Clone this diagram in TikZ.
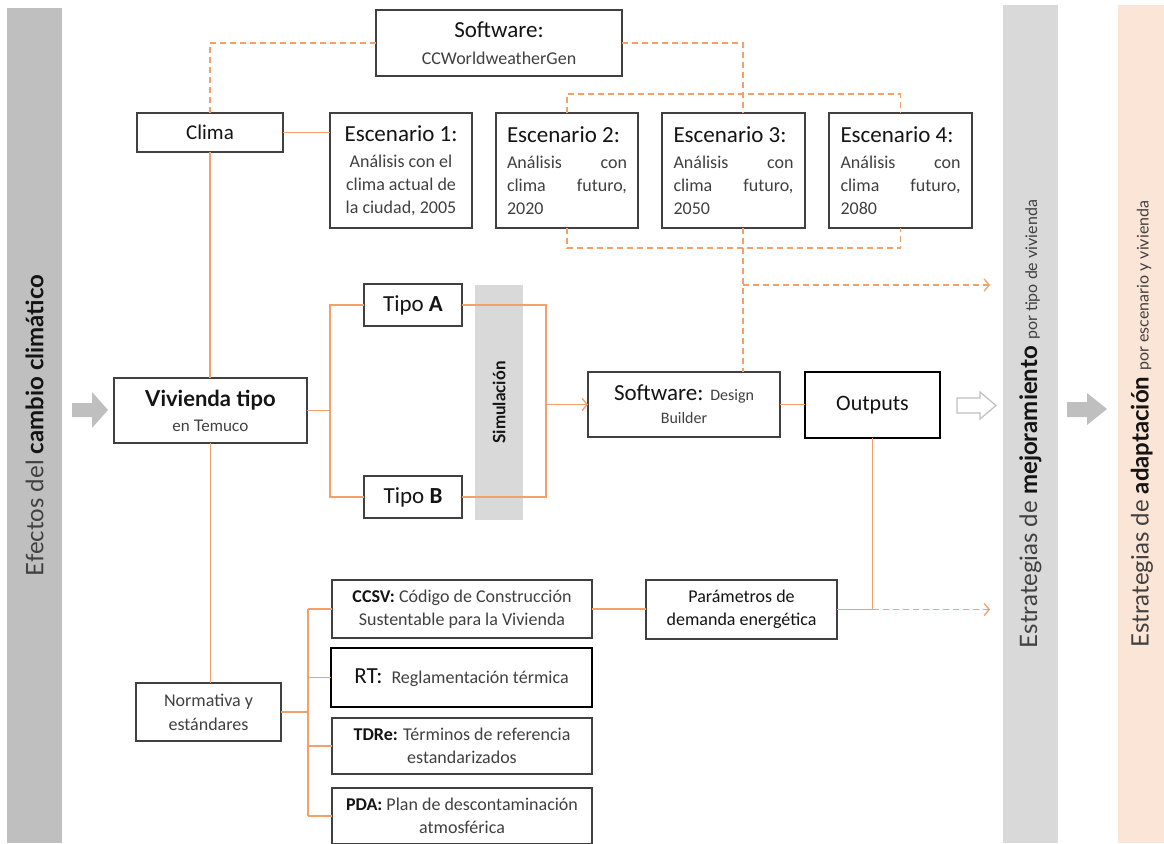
\documentclass[tikz,border=0pt]{standalone}
\usepackage{fontspec}
\setmainfont{Carlito}
\newfontfamily\lato{Lato}
\usetikzlibrary{arrows.meta}
\definecolor{orc}{RGB}{243,160,105}
\definecolor{bc}{RGB}{64,64,64}
\definecolor{tg}{RGB}{64,64,64}
\definecolor{tk}{RGB}{20,20,20}
\definecolor{g1}{RGB}{191,191,191}
\definecolor{g2}{RGB}{217,217,217}
\definecolor{pch}{RGB}{251,229,214}
\newcommand{\fs}[2]{\fontsize{#1}{#2}\selectfont}
\newcommand{\escbox}[2]{\parbox{120pt}{\fs{23}{27}\color{tk}Escenario #1:\par\vspace{3pt}\fs{18}{23}\color{tg}#2\par}}
\begin{document}
\begin{tikzpicture}[x=1pt,y=-1pt,
  bx/.style={draw=bc, line width=1.2pt, fill=white, inner sep=0pt, outer sep=0pt, text=tg},
  thickbx/.style={bx, draw=black, line width=2.4pt},
  ln/.style={draw=orc, line width=1.3pt},
  dln/.style={ln, dash pattern=on 6pt off 4pt},
  tip/.style={-{Straight Barb[length=5pt,width=12pt]}},
  bar/.style={rotate=90, inner sep=0pt, outer sep=0pt, minimum width=838, text=tg}
]
\useasboundingbox (0,0) rectangle (1164,843);
\clip (0,0) rectangle (1164,843);

% side bars
\node[bar, fill=g1, minimum height=55, minimum width=835] (efx) at (34.5,425.5)
  {\lato\fs{24}{28}Efectos del {\color{tk}\bfseries cambio climático}};
\node[bar, fill=g2, minimum height=55] (mej) at (1030.5,424)
  {\lato\fs{24}{28}Estrategias de {\color{tk}\bfseries mejoramiento} {\fs{16}{20}por tipo de vivienda}};
\node[bar, fill=pch, minimum height=48] (ada) at (1142,424)
  {\lato\fs{24}{28}Estrategias de {\color{tk}\bfseries adaptación} {\fs{16}{20}por escenario y vivienda}};

% block arrows
\fill[g1] (72,403) -- (92,403) -- (92,392) -- (108,410) -- (92,428) -- (92,417) -- (72,417) -- cycle;
\draw[g1, line width=1.2pt, fill=white] (957,398) -- (980,398) -- (980,392) -- (996,405.5) -- (980,419) -- (980,413) -- (957,413) -- cycle;
\fill[g1] (1067,402) -- (1087,402) -- (1087,393) -- (1107,409) -- (1087,425) -- (1087,417) -- (1067,417) -- cycle;

% boxes
\node[bx, minimum width=246, minimum height=66] (sw) at (499,43)
  {\parbox{240pt}{\centering{\fs{23}{27}\color{tk}Software:\par}{\fs{18}{27}CCWorldweatherGen\par}}};
\node[bx, minimum width=146, minimum height=39, text=tk] (clima) at (210,132.5) {\fs{21}{24}Clima};
\node[bx, minimum width=142, minimum height=115] (esc1) at (401,170.5)
  {\parbox{126pt}{\centering{\fs{23}{27}\color{tk}Escenario 1:\par}\vspace{3pt}{\fs{18}{23}Análisis con el\\clima actual de\\la ciudad, 2005\par}}};
\node[bx, minimum width=142, minimum height=115] (esc2) at (567,170.5)
  {\escbox{2}{Análisis\hfill con\\clima\hfill futuro,\\2020}};
\node[bx, minimum width=143, minimum height=115] (esc3) at (733.5,170.5)
  {\escbox{3}{Análisis\hfill con\\clima\hfill futuro,\\2050}};
\node[bx, minimum width=143, minimum height=115] (esc4) at (900.5,170.5)
  {\escbox{4}{Análisis\hfill con\\clima\hfill futuro,\\2080}};

\node[bx, minimum width=193, minimum height=65] (viv) at (210.5,410.5)
  {\parbox{185pt}{\centering\lato{\fs{22}{25}\color{tk}\bfseries Vivienda tipo\par}{\fs{16}{25}en Temuco\par}}};
\node[bx, minimum width=98, minimum height=42, text=tk] (tipoA) at (413,305) {\fs{23}{26}Tipo \textbf{A}};
\node[bx, minimum width=98, minimum height=42, text=tk] (tipoB) at (413,497) {\fs{23}{26}Tipo \textbf{B}};
\node[fill=g2, rotate=90, minimum width=235, minimum height=48, inner sep=0pt, outer sep=0pt, text=tk] (sim) at (499,402.5)
  {\lato\bfseries\fs{17}{20}Simulación};
\node[bx, minimum width=192, minimum height=65] (sdb) at (684,404.5)
  {\parbox{185pt}{\centering{\fs{23}{23}{\color{tk}Software:} \fs{16}{23}Design\par}{\fs{16}{23}Builder\par}}};
\node[thickbx, minimum width=135, minimum height=66, text=tk] (out) at (872.5,405) {\fs{22}{26}Outputs};
\node[bx, minimum width=191, minimum height=59, text=tk] (par) at (741.5,609.5)
  {\parbox{185pt}{\centering\fs{18}{23}Parámetros de\\demanda energética\par}};

\node[bx, minimum width=260, minimum height=58] (ccsv) at (462,609)
  {\parbox{255pt}{\centering\fs{18}{23}{\color{tk}\textbf{CCSV:}} Código de Construcción\\Sustentable para la Vivienda\par}};
\node[thickbx, minimum width=261, minimum height=59, text=tg] (rt) at (461.5,677.5)
  {\fs{18}{23}{\color{tk}\fs{23}{23}RT:}\enspace Reglamentación térmica};
\node[bx, minimum width=260, minimum height=56] (tdre) at (462,746)
  {\parbox{255pt}{\centering\fs{18}{23}{\color{tk}\textbf{TDRe:}} Términos de referencia\\estandarizados\par}};
\node[bx, minimum width=260, minimum height=56] (pda) at (462,816)
  {\parbox{255pt}{\centering\fs{18}{23}{\color{tk}\textbf{PDA:}} Plan de descontaminación\\atmosférica\par}};
\node[bx, minimum width=145, minimum height=58] (norm) at (208.5,712)
  {\parbox{140pt}{\centering\fs{18}{24}Normativa y\\estándares\par}};

% helper coordinates
\coordinate (br1) at (330,0);
\coordinate (br2) at (546,0);
\coordinate (br3) at (308,0);
\coordinate (d3) at (743,0);
\coordinate (jo) at (872.5,609.5);
\coordinate (endA) at (990,285);
\coordinate (endB) at (990,609.5);

% solid connectors
\draw[ln] (clima.east) -- (clima.east -| esc1.west);
\draw[ln] (clima.south) -- (clima.south |- viv.north);
\draw[ln] (viv.south) -- (viv.south |- norm.north);
\draw[ln] (viv.east) -- (viv.east -| br1);
\draw[ln] (tipoA.west) -- (tipoA.west -| br1) -- (tipoB.west -| br1) -- (tipoB.west);
\draw[ln] (tipoA.east) -- (tipoA.east -| sim.south);
\draw[ln] (tipoB.east) -- (tipoB.east -| sim.south);
\draw[ln] (tipoA.east -| sim.north) -- (tipoA.east -| br2) -- (tipoB.east -| br2) -- (tipoB.east -| sim.north);
\draw[ln, tip] (br2 |- sdb.west) -- (sdb.west);
\draw[ln] (sdb.east) -- (sdb.east -| out.west);
\draw[ln] (out.south) -- (jo);
\draw[ln] (par.east) -- (jo);
\draw[ln] (ccsv.east) -- (ccsv.east -| par.west);
\draw[ln] (norm.east) -- (norm.east -| br3);
\draw[ln] (br3 |- ccsv.west) -- (br3 |- pda.west);
\draw[ln] (br3 |- ccsv.west) -- (ccsv.west);
\draw[ln] (br3 |- rt.west) -- (rt.west);
\draw[ln] (br3 |- tdre.west) -- (tdre.west);
\draw[ln] (br3 |- pda.west) -- (pda.west);

% dashed connectors
\draw[dln] (sw.west) -| (clima.north);
\draw[dln] (sw.east) -| (d3 |- esc3.north);
\draw[dln] (esc2.north) -- ++(0,-19) -| (esc4.north);
\draw[dln] (esc2.south) -- ++(0,20) -| (esc4.south);
\draw[dln] (d3 |- esc3.south) -- (d3 |- sdb.north);
\draw[dln, tip] (d3 |- endA) -- (endA);
\draw[dln, tip] (jo) -- (endB);
\end{tikzpicture}
\end{document}
